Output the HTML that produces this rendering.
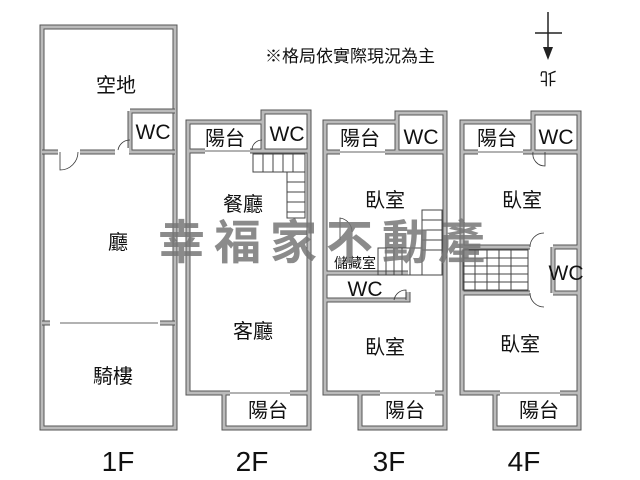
<!DOCTYPE html>
<html><head><meta charset="utf-8"><style>
html,body{margin:0;padding:0;background:#fff;width:640px;height:480px;overflow:hidden}
svg{display:block}
text{font-family:"Liberation Sans","Noto Sans CJK TC",sans-serif;fill:#111}
.w{fill:none;stroke:#555;stroke-width:5}
.wi{fill:none;stroke:#bbb;stroke-width:3}
.t{stroke:#444;stroke-width:1;fill:none}
.d{stroke:#333;stroke-width:0.8;fill:none}
</style></head><body>
<svg width="640" height="480" viewBox="0 0 640 480" xmlns="http://www.w3.org/2000/svg">
<g id="walls">
<rect x="42" y="27" width="133" height="401" class="w"/><rect x="42" y="27" width="133" height="401" class="wi"/>
<path d="M130 111H175M130 111V152M42 152H58M80 152H175M42 323H175" class="w"/>
<path d="M130 111H175M130 111V152M42 152H58M80 152H175M42 323H175" class="wi"/>
<path d="M188 122H263V112H309V393H188Z M224 393V428H309V393 M263 112V151 M188 151H309" class="w"/>
<path d="M188 122H263V112H309V393H188Z M224 393V428H309V393 M263 112V151 M188 151H309" class="wi"/>
<path d="M325 122H397V113H445V393H325Z M360 393V428H445V393 M397 113V152 M325 152H445 M325 273H408 M325 300H408V292" class="w"/>
<path d="M325 122H397V113H445V393H325Z M360 393V428H445V393 M397 113V152 M325 152H445 M325 273H408 M325 300H408V292" class="wi"/>
<path d="M462 122H533V113H579V393H462Z M495 393V428H579V393 M533 113V152 M462 152H579 M462 247H530 M553 247H579 M462 293H530 M553 247V293 M553 293H579" class="w"/>
<path d="M462 122H533V113H579V393H462Z M495 393V428H579V393 M533 113V152 M462 152H579 M462 247H530 M553 247H579 M462 293H530 M553 247V293 M553 293H579" class="wi"/>
</g>
<g fill="#fff">
<rect x="60" y="149" width="18" height="7"/><rect x="115" y="148" width="14" height="7"/>
<rect x="50" y="320" width="110" height="7"/>
<rect x="205" y="148" width="45" height="7"/><rect x="230" y="390" width="60" height="7"/>
<rect x="340" y="149" width="45" height="7"/><rect x="380" y="390" width="55" height="7"/>
<rect x="478" y="149" width="45" height="7"/><rect x="500" y="390" width="60" height="7"/>
</g>
<g class="d">
<path d="M60 152V170A18 18 0 0 0 78 152"/><path d="M130 140A12 12 0 0 0 118 150"/>
<line x1="60" y1="323" x2="158" y2="323"/><line x1="205" y1="151" x2="250" y2="151"/>
<line x1="230" y1="393" x2="290" y2="393"/><line x1="340" y1="152" x2="385" y2="152"/>
<line x1="380" y1="393" x2="435" y2="393"/><line x1="478" y1="152" x2="523" y2="152"/>
<line x1="500" y1="393" x2="560" y2="393"/>
<path d="M262 140A10 10 0 0 0 252 150"/>
<path d="M406 300V290A12 12 0 0 0 394 300"/>
<path d="M545 152V166A12 12 0 0 1 533 152"/>
<path d="M530 247A14 14 0 0 1 544 233M530 293A14 14 0 0 0 544 307"/>
<path d="M340 240V218A14 14 0 0 1 352 232"/>
</g>
<g class="t">
<rect x="253" y="154" width="52" height="18"/><rect x="287" y="172" width="18" height="46"/>
<path d="M263 154V172M273 154V172M283 154V172M293 154V172M287 182H305M287 192H305M287 202H305M287 212H305"/>
<rect x="422" y="210" width="20" height="65"/><rect x="378" y="248" width="44" height="27"/>
<path d="M422 220H442M422 230H442M422 240H442M422 250H442M386 248V275M394 248V275M402 248V275M410 248V275"/>
<rect x="463" y="250" width="65" height="40"/>
<path d="M463 258H528M463 266H528M463 274H528M463 282H528M475 250V290M487 250V290M499 250V290M511 250V290"/>
</g>
<g stroke="#222" stroke-width="1.5"><line x1="548" y1="12" x2="548" y2="52"/><line x1="535" y1="33" x2="562" y2="33"/></g>
<polygon points="543,47 553,47 548,60" fill="#222"/>
<text x="548" y="66" font-size="17" text-anchor="middle" transform="rotate(180 548 72)" dy="6">北</text>
<text x="350" y="62" font-size="17" text-anchor="middle">※格局依實際現況為主</text>
<g font-size="20" text-anchor="middle">
<text x="116" y="92">空地</text><text x="153" y="139" font-size="21">WC</text>
<text x="118" y="249">廳</text><text x="113" y="383">騎樓</text>
<text x="225" y="145">陽台</text><text x="287" y="141" font-size="21">WC</text>
<text x="243" y="211">餐廳</text><text x="253" y="338">客廳</text><text x="268" y="417">陽台</text>
<text x="360" y="145">陽台</text><text x="421" y="144" font-size="21">WC</text>
<text x="385" y="207">臥室</text><text x="355" y="268" font-size="14">儲藏室</text>
<text x="365" y="296" font-size="21">WC</text><text x="385" y="354">臥室</text><text x="405" y="417">陽台</text>
<text x="497" y="145">陽台</text><text x="556" y="144" font-size="21">WC</text>
<text x="522" y="207">臥室</text><text x="566" y="280" font-size="21">WC</text>
<text x="520" y="351">臥室</text><text x="539" y="417">陽台</text>
</g>
<g font-size="28" text-anchor="middle">
<text x="118" y="471">1F</text><text x="252" y="471">2F</text><text x="389" y="471">3F</text><text x="524" y="471">4F</text>
</g>
<text x="158" y="259" font-size="47" font-weight="bold" letter-spacing="9" style="fill:#777;opacity:0.85">幸福家不動產</text>
</svg>
</body></html>
